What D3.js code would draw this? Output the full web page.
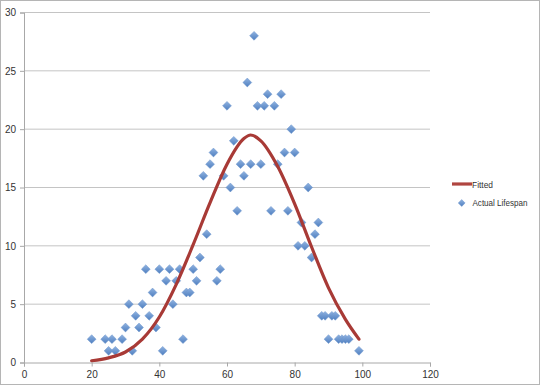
<!DOCTYPE html>
<html>
<head>
<meta charset="utf-8">
<script src="https://cdn.jsdelivr.net/npm/d3@7"></script>
<style>
  body { margin: 0; background: #fff; }
  text { font-family: "Liberation Sans", Arial, sans-serif; fill: #333; }
</style>
</head>
<body>
<div id="chart"></div>
<script>
// actual lifespan points (age, count)
var ages = [20, 24, 25, 26, 27, 29, 30, 31, 32, 33, 34, 35, 36, 37, 38, 39, 40, 41, 42, 43,
  44, 45, 46, 47, 48, 49, 50, 51, 52, 53, 54, 55, 56, 57, 58, 59, 60, 61, 62, 63,
  64, 65, 66, 67, 68, 69, 70, 71, 72, 73, 74, 75, 76, 77, 78, 79, 80, 81, 82, 83,
  84, 85, 86, 87, 88, 89, 90, 91, 92, 93, 94, 95, 96, 99];
var counts = [2, 2, 1, 2, 1, 2, 3, 5, 1, 4, 3, 5, 8, 4, 6, 3, 8, 1, 7, 8,
  5, 7, 8, 2, 6, 6, 8, 7, 9, 16, 11, 17, 18, 7, 8, 16, 22, 15, 19, 13,
  17, 16, 24, 17, 28, 22, 17, 22, 23, 13, 22, 17, 23, 18, 13, 20, 18, 10, 12, 10,
  15, 9, 11, 12, 4, 4, 2, 4, 4, 2, 2, 2, 2, 1];

// fitted curve
var fitX = [20, 25, 30, 35, 40, 45, 50, 55, 60, 65, 67, 70, 75, 80, 85, 90, 95, 99];
var fitY = [0.15, 0.4, 0.9, 2.0, 3.9, 6.7, 10.1, 13.7, 17.0, 19.2, 19.5, 19.0, 16.8, 13.6, 9.9, 6.4, 3.7, 2.0];

var xTicks = [0, 20, 40, 60, 80, 100, 120];
var yTicks = [0, 5, 10, 15, 20, 25, 30];

var W = 540, H = 386;

var svg = d3.select("#chart").append("svg")
  .attr("width", W)
  .attr("height", H);

// outer frame
svg.append("rect")
  .attr("x", 0.5).attr("y", 0.5)
  .attr("width", W - 1).attr("height", H - 2)
  .attr("fill", "none")
  .attr("stroke", "#b5b5b5");

var x = d3.scaleLinear().domain([0, 120]).range([24, 430]);
var y = d3.scaleLinear().domain([0, 30]).range([362.5, 12.5]);

// gridlines
svg.append("g")
  .selectAll("line")
  .data(yTicks.filter(function(d) { return d > 0; }))
  .enter().append("line")
  .attr("x1", x(0)).attr("x2", x(120))
  .attr("y1", function(d) { return y(d); })
  .attr("y2", function(d) { return y(d); })
  .attr("stroke", "#c4c4c4")
  .attr("stroke-width", 1);

// axes
var xAxis = svg.append("g")
  .attr("transform", "translate(0," + y(0) + ")")
  .call(d3.axisBottom(x).tickValues(xTicks).tickSize(4).tickPadding(4));
var yAxis = svg.append("g")
  .attr("transform", "translate(" + x(0) + ",0)")
  .call(d3.axisLeft(y).tickValues(yTicks).tickSize(4).tickPadding(4));

[xAxis, yAxis].forEach(function(a) {
  a.select(".domain").attr("stroke", "#a8a8a8");
  a.selectAll(".tick line").attr("stroke", "#a8a8a8");
  a.selectAll(".tick text")
    .style("font-size", "10px")
    .style("font-family", "Liberation Sans, Arial, sans-serif")
    .attr("fill", "#333");
});

// gradient for diamonds
var defs = svg.append("defs");
var grad = defs.append("linearGradient")
  .attr("id", "dia")
  .attr("x1", 0).attr("y1", 0).attr("x2", 0).attr("y2", 1);
grad.append("stop").attr("offset", "0%").attr("stop-color", "#8fb2e0");
grad.append("stop").attr("offset", "100%").attr("stop-color", "#4f7fc0");

var diamond = d3.symbol().type(d3.symbolDiamond2).size(50);

// fitted line
var line = d3.line()
  .x(function(d, i) { return x(fitX[i]); })
  .y(function(d) { return y(d); })
  .curve(d3.curveMonotoneX);

// points
svg.append("g")
  .selectAll("path")
  .data(counts)
  .enter().append("path")
  .attr("d", diamond)
  .attr("transform", function(d, i) {
    return "translate(" + x(ages[i]) + "," + y(d) + ")";
  })
  .attr("fill", "url(#dia)")
  .attr("stroke", "#6f97cc")
  .attr("stroke-width", 0.5);

svg.append("path")
  .datum(fitY)
  .attr("d", line)
  .attr("fill", "none")
  .attr("stroke", "#a83a36")
  .attr("stroke-width", 3.2)
  .attr("stroke-linecap", "round");

// legend
var legend = svg.append("g");
legend.append("line")
  .attr("x1", 452).attr("x2", 472)
  .attr("y1", 184).attr("y2", 184)
  .attr("stroke", "#b04540")
  .attr("stroke-width", 3.2);
legend.append("text")
  .attr("x", 472).attr("y", 187.5)
  .attr("textLength", 21)
  .attr("lengthAdjust", "spacingAndGlyphs")
  .style("font-size", "9.5px")
  .text("Fitted");
legend.append("path")
  .attr("d", d3.symbol().type(d3.symbolDiamond2).size(30))
  .attr("transform", "translate(461.7,203)")
  .attr("fill", "url(#dia)")
  .attr("stroke", "#6f97cc")
  .attr("stroke-width", 0.5);
legend.append("text")
  .attr("x", 472.5).attr("y", 206)
  .attr("textLength", 55)
  .attr("lengthAdjust", "spacingAndGlyphs")
  .style("font-size", "9.5px")
  .text("Actual Lifespan");
</script>
</body>
</html>
